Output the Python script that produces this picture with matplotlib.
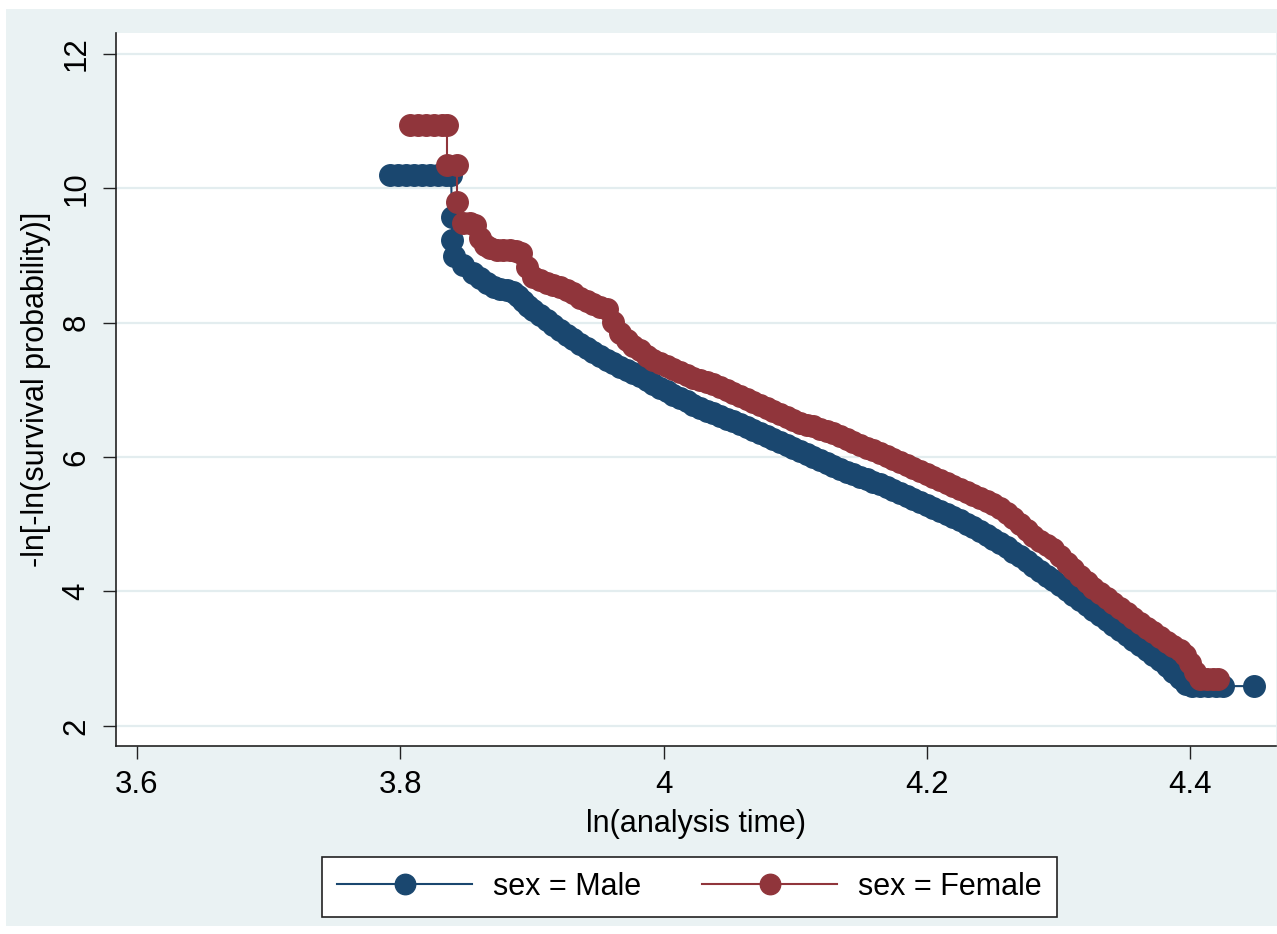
import matplotlib
matplotlib.use('Agg')
import matplotlib.pyplot as plt
from matplotlib.patches import Rectangle

plt.rcParams['font.family'] = ['Liberation Sans', 'DejaVu Sans']

# ln(analysis time) and -ln[-ln(S)] for each group
male_x = [3.7922, 3.7983, 3.8044, 3.8104, 3.8165, 3.8226, 3.8287, 3.8348, 3.8386,
          3.8393, 3.8393, 3.8408, 3.8477, 3.8553, 3.8606, 3.8659, 3.8712, 3.8758,
          3.8811, 3.8857, 3.8895, 3.8933, 3.8971, 3.9009, 3.9062, 3.9115, 3.9160,
          3.9214, 3.9265, 3.9315, 3.9366, 3.9417, 3.9467, 3.9518, 3.9568, 3.9619,
          3.9669, 3.9720, 3.9770, 3.9821, 3.9872, 3.9922, 3.9973, 4.0024, 4.0074,
          4.0125, 4.0176, 4.0226, 4.0277, 4.0328, 4.0378, 4.0429, 4.0480, 4.0530,
          4.0581, 4.0632, 4.0682, 4.0733, 4.0784, 4.0834, 4.0885, 4.0936, 4.0986,
          4.1037, 4.1088, 4.1138, 4.1189, 4.1240, 4.1290, 4.1341, 4.1392, 4.1442,
          4.1493, 4.1544, 4.1594, 4.1645, 4.1696, 4.1746, 4.1797, 4.1848, 4.1898,
          4.1949, 4.2000, 4.2050, 4.2101, 4.2152, 4.2202, 4.2253, 4.2304, 4.2354,
          4.2405, 4.2455, 4.2506, 4.2556, 4.2607, 4.2657, 4.2708, 4.2759, 4.2809,
          4.2860, 4.2911, 4.2961, 4.3012, 4.3063, 4.3113, 4.3164, 4.3215, 4.3265,
          4.3316, 4.3367, 4.3417, 4.3468, 4.3519, 4.3569, 4.3620, 4.3671, 4.3721,
          4.3772, 4.3823, 4.3873, 4.3924, 4.3970, 4.4015, 4.4076, 4.4137, 4.4198,
          4.4251, 4.4486]
male_y = [10.199, 10.199, 10.199, 10.199, 10.199, 10.199, 10.199, 10.199, 10.199,
          9.574, 9.231, 8.993, 8.859, 8.740, 8.665, 8.591, 8.531, 8.501,
          8.487, 8.457, 8.397, 8.323, 8.248, 8.189, 8.114, 8.040, 7.966,
          7.891, 7.822, 7.752, 7.683, 7.623, 7.564, 7.504, 7.449, 7.395,
          7.340, 7.295, 7.251, 7.206, 7.147, 7.087, 7.028, 6.978, 6.929,
          6.879, 6.829, 6.780, 6.730, 6.690, 6.651, 6.611, 6.571, 6.532,
          6.492, 6.447, 6.403, 6.358, 6.313, 6.269, 6.224, 6.179, 6.135,
          6.090, 6.045, 6.001, 5.956, 5.911, 5.867, 5.822, 5.782, 5.743,
          5.703, 5.668, 5.634, 5.599, 5.554, 5.510, 5.465, 5.420, 5.376,
          5.331, 5.286, 5.242, 5.197, 5.152, 5.107, 5.062, 5.008, 4.953,
          4.899, 4.839, 4.780, 4.720, 4.656, 4.591, 4.527, 4.452, 4.378,
          4.303, 4.234, 4.164, 4.095, 4.020, 3.946, 3.871, 3.797, 3.722,
          3.648, 3.574, 3.499, 3.425, 3.350, 3.276, 3.201, 3.127, 3.052,
          2.978, 2.889, 2.799, 2.710, 2.621, 2.591, 2.591, 2.591, 2.591,
          2.591, 2.591]

female_x = [3.8074, 3.8135, 3.8196, 3.8256, 3.8317, 3.8355, 3.8355, 3.8431, 3.8431,
            3.8477, 3.8530, 3.8568, 3.8606, 3.8644, 3.8682, 3.8735, 3.8781, 3.8834,
            3.8879, 3.8917, 3.8963, 3.9009, 3.9062, 3.9115, 3.9160, 3.9214, 3.9267,
            3.9312, 3.9366, 3.9419, 3.9464, 3.9518, 3.9571, 3.9616, 3.9669, 3.9723,
            3.9768, 3.9821, 3.9875, 3.9920, 3.9973, 4.0027, 4.0072, 4.0125, 4.0179,
            4.0224, 4.0277, 4.0330, 4.0376, 4.0429, 4.0482, 4.0528, 4.0581, 4.0634,
            4.0680, 4.0733, 4.0786, 4.0832, 4.0885, 4.0938, 4.0984, 4.1037, 4.1090,
            4.1136, 4.1189, 4.1242, 4.1288, 4.1341, 4.1394, 4.1440, 4.1493, 4.1546,
            4.1592, 4.1645, 4.1698, 4.1744, 4.1797, 4.1850, 4.1896, 4.1949, 4.2002,
            4.2047, 4.2101, 4.2154, 4.2199, 4.2253, 4.2306, 4.2351, 4.2405, 4.2458,
            4.2503, 4.2556, 4.2610, 4.2655, 4.2708, 4.2762, 4.2807, 4.2860, 4.2913,
            4.2959, 4.3012, 4.3066, 4.3111, 4.3164, 4.3217, 4.3263, 4.3316, 4.3369,
            4.3415, 4.3468, 4.3521, 4.3567, 4.3620, 4.3673, 4.3719, 4.3772, 4.3825,
            4.3871, 4.3924, 4.3962, 4.4000, 4.4038, 4.4076, 4.4129, 4.4175, 4.4213]
female_y = [10.943, 10.943, 10.943, 10.943, 10.943, 10.943, 10.348, 10.348, 9.797,
            9.484, 9.484, 9.454, 9.261, 9.157, 9.112, 9.082, 9.082, 9.082,
            9.067, 9.037, 8.829, 8.680, 8.636, 8.591, 8.561, 8.531, 8.487,
            8.442, 8.368, 8.323, 8.278, 8.233, 8.204, 8.010, 7.846, 7.742,
            7.653, 7.593, 7.504, 7.444, 7.400, 7.355, 7.310, 7.266, 7.221,
            7.176, 7.147, 7.117, 7.087, 7.042, 6.998, 6.953, 6.908, 6.864,
            6.819, 6.775, 6.730, 6.685, 6.641, 6.596, 6.551, 6.507, 6.477,
            6.462, 6.417, 6.387, 6.358, 6.313, 6.268, 6.224, 6.179, 6.134,
            6.105, 6.060, 6.015, 5.971, 5.926, 5.881, 5.837, 5.792, 5.747,
            5.703, 5.658, 5.613, 5.569, 5.524, 5.479, 5.435, 5.390, 5.345,
            5.301, 5.241, 5.167, 5.092, 5.003, 4.914, 4.824, 4.750, 4.690,
            4.631, 4.527, 4.423, 4.333, 4.229, 4.140, 4.050, 3.976, 3.901,
            3.827, 3.752, 3.678, 3.604, 3.529, 3.455, 3.395, 3.321, 3.246,
            3.187, 3.127, 3.053, 2.934, 2.800, 2.695, 2.695, 2.695, 2.695]

x_ticks = [3.6, 3.8, 4.0, 4.2, 4.4]
x_labels = ['3.6', '3.8', '4', '4.2', '4.4']
y_ticks = [2, 4, 6, 8, 10, 12]

navy = '#1A476F'
maroon = '#90353B'
bg = '#EAF2F3'

fig = plt.figure(figsize=(12.77, 9.34), dpi=100)
fig.patches.append(Rectangle((6 / 1277, 8 / 934), 1 - 6 / 1277, 1 - 17 / 934,
                             transform=fig.transFigure, facecolor=bg,
                             edgecolor='none', zorder=-10))
ax = fig.add_axes([0.0908, 0.2013, 0.9084, 0.7634])
ax.set_facecolor('white')

ax.plot(male_x, male_y, color=navy, lw=1.5, marker='o', ms=15.5,
        mec=navy, mfc=navy, label='sex = Male', zorder=3)
ax.plot(female_x, female_y, color=maroon, lw=1.5, marker='o', ms=15.5,
        mec=maroon, mfc=maroon, label='sex = Female', zorder=4)

ax.set_xlim(3.584, 4.4653)
ax.set_ylim(1.70, 12.31)
ax.set_xticks(x_ticks)
ax.set_xticklabels(x_labels)
ax.set_yticks(y_ticks)
ax.set_yticklabels([str(v) for v in y_ticks], rotation=90, va='center')

for s in ['top', 'right']:
    ax.spines[s].set_visible(False)
for s in ['left', 'bottom']:
    ax.spines[s].set_linewidth(1.2)
    ax.spines[s].set_color('#222222')

ax.grid(axis='y', color='#E3EDEF', lw=1.6)
ax.set_axisbelow(True)
ax.tick_params(length=9.5, width=1.0, color='#222222', labelsize=22.5, pad=8)

ax.set_xlabel('ln(analysis time)', fontsize=22, labelpad=6)
ax.set_ylabel('-ln[-ln(survival probability)]', fontsize=22, labelpad=8)

leg = fig.legend(loc='center', bbox_to_anchor=(0.540, 0.0503), ncol=2, frameon=True,
                 fancybox=False, edgecolor='#222222', framealpha=1, fontsize=22,
                 handlelength=4.4, handletextpad=0.7, columnspacing=2.0,
                 borderpad=0.5, numpoints=1, markerscale=0.95)
leg.get_frame().set_linewidth(1.2)

fig.savefig('out.png', dpi=100)
plt.close(fig)
